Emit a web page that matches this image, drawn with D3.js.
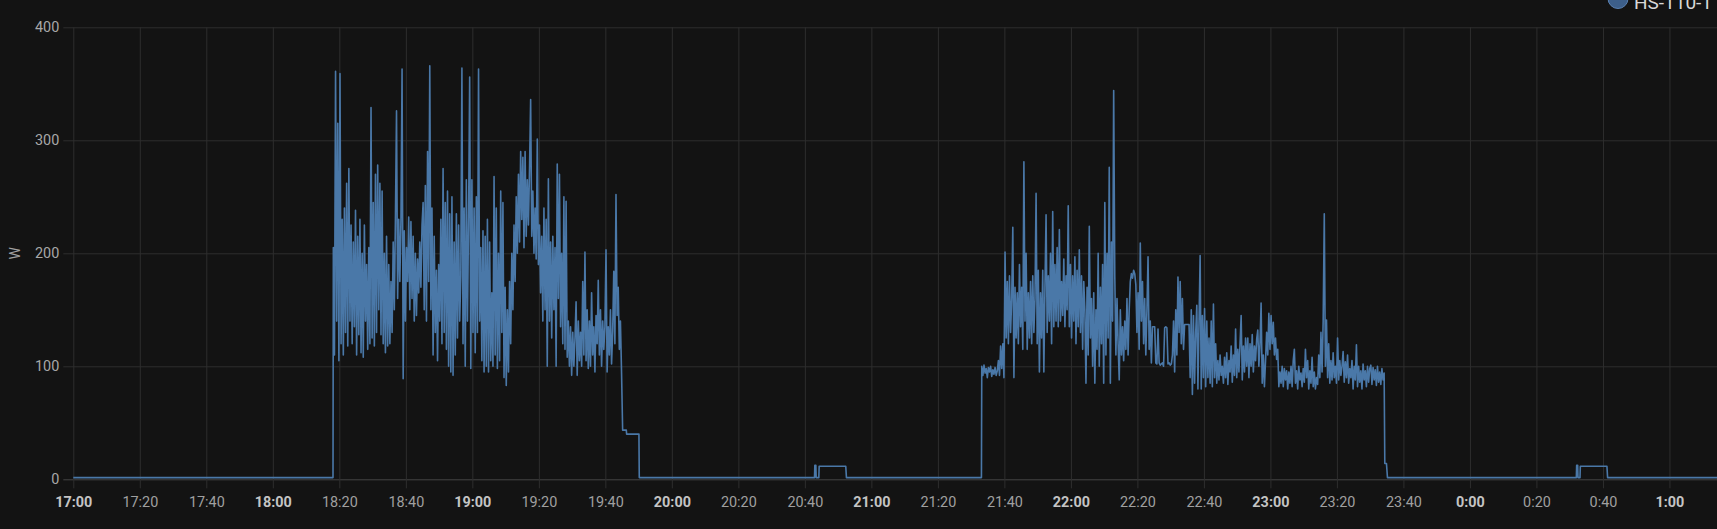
<!DOCTYPE html>
<html><head><meta charset="utf-8">
<script src="https://cdn.jsdelivr.net/npm/d3@7"></script>
<style>html,body{margin:0;padding:0;background:#131313;overflow:hidden}svg{display:block}</style>
</head><body><svg id="c" width="1717" height="529"></svg>
<script>
// ---- data ----
const startTime = new Date(2023, 0, 1, 17, 0, 0);   // left edge of the chart
const endMinute = 494.3;                             // minutes after start at right edge
const yTicks = [0, 100, 200, 300, 400];
const yLabel = "W";
const legendLabel = "HS-110-1 Power";
const sampleStep = 1 / 3;                            // minutes between samples in bursts

// flat / stepped parts (minutes after 17:00, watts)
const stepMinutes = [0, 78.1, 165.2, 166.3, 166.4, 170.1, 170.2, 222.9, 223.0, 223.3, 223.4, 224.2, 224.3, 232.3, 232.5, 273.1,
  394.4, 394.9, 395.2, 452.0, 452.1, 452.4, 452.5, 453.1, 453.2, 461.2, 461.4, 494.3];
const stepWatts = [1.5, 1.5, 43.5, 43.5, 40, 40, 1.5, 1.5, 12.5, 12.5, 1.5, 1.5, 11.5, 11.5, 1.5, 1.5,
  14, 14, 1.5, 1.5, 12.5, 12.5, 1.5, 1.5, 11.5, 11.5, 1.5, 1.5];

// first activity burst (18:18 - 19:45)
const burst1Start = 78.2;
const burst1Watts = [
  205,110,361,140,315,105,359,120,230,110, 240,130,262,118,275,140,225,120,210,135,
  238,110,215,128,230,112,200,108,225,140, 190,115,205,120,329,125,245,118,270,130,
  278,150,262,128,255,120,200,112,215,118, 190,120,175,130,210,150,230,326,160,230,
  175,230,363,89,220,140,205,175,232,150, 228,160,215,140,200,145,195,165,210,170,
  225,245,150,260,140,290,175,366,150,240, 110,215,130,185,105,190,140,230,120,275,
  130,245,115,255,100,235,95,250,92,210, 110,235,125,225,140,180,364,120,240,100,
  265,140,230,356,98,265,130,240,112,250, 130,363,140,205,105,220,95,215,100,230,
  95,210,105,165,100,268,110,240,98,200, 105,255,130,245,90,170,83,150,95,175,
  120,200,150,225,175,250,200,270,210,290, 230,285,205,290,215,265,225,275,336,215,
  255,200,240,195,301,190,225,165,215,140, 240,150,230,100,266,140,210,125,215,150,
  205,100,279,160,270,135,200,120,250,115, 246,108,140,100,135,92,130,100,125,157,
  92,140,105,130,100,175,110,201,105,150, 98,140,100,165,110,135,95,145,120,176,
  110,150,100,140,115,135,203,95,135,110, 150,102,130,184,120,252,145,170,115,140,
  95
];

// second activity burst (21:33 - 23:34)
const burst2Start = 273.2;
const burst2Watts = [
  100,92,101,94,98,90,99,95,100,91, 97,93,99,92,96,105,92,118,98,120,
  90,201,125,175,120,180,130,160,223,90, 170,125,165,120,190,135,170,115,281,140,
  200,115,165,125,175,120,180,130,160,253, 120,185,95,165,125,185,95,170,234,130,
  180,140,200,120,237,135,190,140,205,135, 221,140,175,145,195,135,180,150,242,135,
  190,125,180,140,197,120,185,135,203,130, 180,115,175,150,85,170,110,224,125,160,
  100,165,85,150,115,200,100,170,120,190, 85,245,110,200,125,276,85,210,140,344,
  180,110,160,120,88,150,110,135,105,140, 115,160,110,150,175,182,178,185,182,172,
  130,165,115,209,140,175,120,160,110,150, 197,115,140,103,135,135,135,103,102,133,
  103,101,102,103,100,134,135,134,102,103, 101,102,110,140,95,150,110,179,130,175,
  120,160,115,137,137,137,137,137,90,150, 75,145,85,130,154,80,140,198,80,145,
  90,151,82,140,90,125,85,140,82,155, 90,120,85,105,88,110,92,100,85,108,
  90,112,84,105,95,118,86,110,92,133, 90,115,95,120,145,88,118,95,125,100,
  125,90,120,100,128,95,118,105,124,132, 100,120,156,85,110,82,105,130,110,147,
  115,145,120,139,110,125,106,115,82,95, 85,100,82,98,88,96,80,95,85,100,
  82,105,115,85,96,80,100,88,94,82, 98,86,115,90,105,80,96,85,108,82,
  95,80,90,84,110,90,130,95,140,235, 100,141,90,120,85,105,88,112,90,100,
  85,125,88,105,92,100,113,86,104,90, 110,85,98,90,105,80,100,88,119,82,
  100,86,96,80,102,88,96,82,100,86, 98,101,84,99,88,97,83,100,86,95,
  84,98,88,94
];

// ---- build series ----
const minuteToDate = m => new Date(startTime.getTime() + m * 60000);
let pts = stepMinutes.map((m, i) => ({ t: m, v: stepWatts[i] }));
burst1Watts.forEach((v, i) => pts.push({ t: burst1Start + i * sampleStep, v }));
burst2Watts.forEach((v, i) => pts.push({ t: burst2Start + i * sampleStep, v }));
pts.sort((a, b) => a.t - b.t);
pts = pts.map(p => ({ d: minuteToDate(p.t), v: p.v }));

// ---- chart ----
const W = 1717, H = 529;
const svg = d3.select("#c");
const pLeft = 73.3, pRight = 1717, pTop = 27.3, pBottom = 479.3;
const x = d3.scaleTime().domain([startTime, minuteToDate(endMinute)]).range([pLeft, pRight]);
const y = d3.scaleLinear().domain([0, 400]).range([pBottom, pTop]);

svg.append("rect").attr("width", W).attr("height", H).attr("fill", "#131313");

const font = "Roboto, 'Open Sans', sans-serif";
const gridColor = "#2e2e2e";

// horizontal grid + y labels
const yAxis = d3.axisLeft(y).tickValues(yTicks).tickSize(0).tickPadding(0);
const gy = svg.append("g").attr("transform", `translate(${pLeft},0)`).call(yAxis);
gy.select(".domain").remove();
gy.selectAll(".tick line").attr("x1", -10).attr("x2", pRight - pLeft)
  .attr("stroke", d => d === 0 ? "#454545" : gridColor);
gy.selectAll(".tick text").attr("x", -14).attr("fill", "#a8a8a8")
  .style("font-family", font).style("font-size", "14.4px");

// vertical grid + x labels
const xTicks = x.ticks(d3.timeMinute.every(20));
const fmt = d3.timeFormat("%-H:%M");
const xAxis = d3.axisBottom(x).tickValues(xTicks).tickFormat(fmt).tickSize(pBottom - pTop + 9).tickPadding(8);
const gx = svg.append("g").attr("transform", `translate(0,${pTop})`).call(xAxis);
gx.select(".domain").remove();
gx.selectAll(".tick line").attr("stroke", gridColor);
gx.selectAll(".tick text")
  .attr("fill", d => d.getMinutes() === 0 ? "#c4c4c4" : "#a0a0a0")
  .style("font-weight", d => d.getMinutes() === 0 ? "bold" : "normal")
  .style("font-family", font).style("font-size", "14.4px");

// y axis title
svg.append("text").attr("transform", `translate(20,${(pTop + pBottom) / 2}) rotate(-90)`)
  .attr("text-anchor", "middle").attr("fill", "#a0a0a0")
  .style("font-family", font).style("font-size", "14px").text(yLabel);

// series line
const line = d3.line().x(d => x(d.d)).y(d => y(d.v)).curve(d3.curveLinear);
svg.append("path").datum(pts).attr("d", line).attr("fill", "none")
  .attr("stroke", "#4a78a8").attr("stroke-width", 1.6).attr("stroke-linejoin", "round");

// legend (cut off at the top-right edge, as in the reference)
svg.append("circle").attr("cx", 1618).attr("cy", -1.5).attr("r", 10)
  .attr("fill", "#3d5f8a").attr("stroke", "#5a80b0").attr("stroke-width", 1);
svg.append("text").attr("x", 1634).attr("y", 9).attr("fill", "#d8d8d8")
  .style("font-family", font).style("font-size", "19px").text(legendLabel);
</script></body></html>
